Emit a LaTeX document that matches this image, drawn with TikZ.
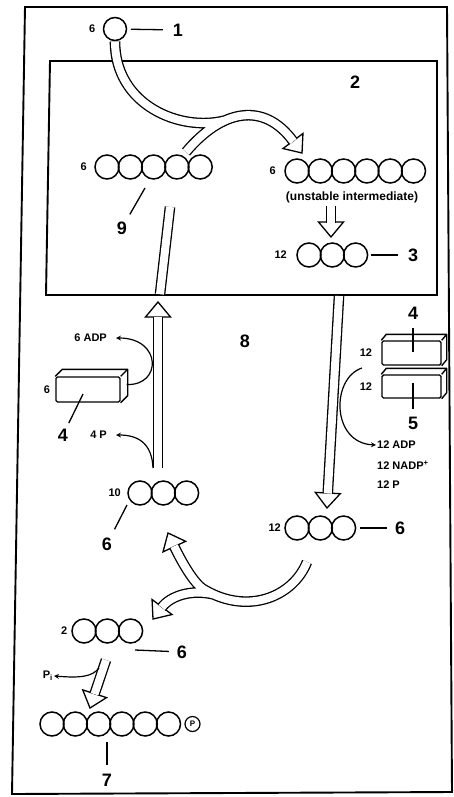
\documentclass[tikz,border=0pt]{standalone}
\usepackage{fontspec}
\setmainfont{Liberation Sans}
\usetikzlibrary{arrows, positioning, calc}

\begin{document}
\begin{tikzpicture}[
    x=1pt, y=1pt,
    atom/.style={circle, draw, line width=1.5pt, minimum size=24pt, inner sep=0pt, outer sep=0pt},
    bar/.style={rectangle, draw, line width=1.4pt, rounded corners=1.5pt, inner sep=0pt},
    bar3d/.style={line width=1.4pt, line join=round},
    num/.style={font=\fontsize{18}{18}\selectfont\bfseries, inner sep=1pt},
    small/.style={font=\fontsize{11}{12}\selectfont\bfseries, inner sep=1pt},
    pointer/.style={line width=1.3pt},
    hollow/.style={draw=black, double=white, double distance=8pt, line width=1.3pt},
    thin/.style={-stealth, line width=1.2pt},
    htip/.pic={\filldraw[fill=white, line width=1.3pt, line join=miter] (0,0) -- (-15,12.5) -- (-15,-12.5) -- cycle;}
]
    \useasboundingbox (0,0) rectangle (454,-797);

    % frame and stroma box
    \draw[line width=1.9pt] (25,-7) -- (447,-7) -- (452,-792) -- (12,-794) -- cycle;
    \draw[line width=1.9pt] (50,-61) -- (437,-61) -- (437,-295) -- (46,-295) -- cycle;

    % CO2
    \node[atom, minimum size=23pt] (co2) at (115,-29) {};
    \node[small, left=7pt of co2] (nco2) {6};
    \node[num] (lab1) at (178,-30) {1};
    \draw[pointer, shorten <=4.5pt, shorten >=9pt] (co2) -- (lab1);
    \node[num] (lab2) at (355,-82) {2};

    % RuBP
    \node[atom] (ru1) at (107,-167) {};
    \node[atom, right=-0.7pt of ru1] (ru2) {};
    \node[atom, right=-0.7pt of ru2] (ru3) {};
    \node[atom, right=-0.7pt of ru3] (ru4) {};
    \node[atom, right=-0.7pt of ru4] (ru5) {};
    \node[small, left=7pt of ru1] (nru) {6};
    \node[num] (lab9) at (122,-228) {9};
    \coordinate (p9) at (145,-188);
    \draw[pointer, shorten >=7pt] (p9) -- (lab9);

    % unstable intermediate
    \node[atom] (un1) at (297,-171) {};
    \node[atom, right=-0.7pt of un1] (un2) {};
    \node[atom, right=-0.7pt of un2] (un3) {};
    \node[atom, right=-0.7pt of un3] (un4) {};
    \node[atom, right=-0.7pt of un4] (un5) {};
    \node[atom, right=-0.7pt of un5] (un6) {};
    \node[small, left=8pt of un1] (nun) {6};
    \node[small, font=\fontsize{12}{12}\selectfont\bfseries] (unst) at (352,-197) {(unstable intermediate)};

    % 3-phosphoglycerate
    \node[atom] (pg1) at (309,-255) {};
    \node[atom, right=-0.7pt of pg1] (pg2) {};
    \node[atom, right=-0.7pt of pg2] (pg3) {};
    \node[small, left=9pt of pg1] (npg) {12};
    \node[num] (lab3) at (413,-255) {3};
    \draw[pointer, shorten <=3pt, shorten >=9pt] (pg3) -- (lab3);

    \node[num] (lab8) at (245,-341) {8};

    % ATP (left)
    \node[bar, minimum width=64pt, minimum height=25pt] (atpL) at (88,-389.5) {};
    \draw[bar3d] (atpL.north west) -- ++(7,7) -- ($(atpL.north east)+(7,7)$) -- ($(atpL.south east)+(7,7)$) -- (atpL.south east)
        (atpL.north east) -- ++(7,7);
    \node[small, left=4pt of atpL] (natpL) {6};
    \node[num] (labL4) at (63,-435) {4};
    \coordinate (p4) at (83,-394);
    \draw[pointer, shorten >=5pt] (p4) -- (labL4);

    % ATP and NADPH (right)
    \node[bar, minimum width=59pt, minimum height=24pt] (atpR) at (411.5,-353) {};
    \draw[bar3d] (atpR.north west) -- ++(5,6) -- ($(atpR.north east)+(5,6)$) -- ($(atpR.south east)+(5,6)$) -- (atpR.south east)
        (atpR.north east) -- ++(5,6);
    \node[bar, minimum width=59pt, minimum height=23pt] (nadph) at (411.5,-386.5) {};
    \draw[bar3d] (nadph.north west) -- ++(5,6) -- ($(nadph.north east)+(5,6)$) -- ($(nadph.south east)+(5,6)$) -- (nadph.south east)
        (nadph.north east) -- ++(5,6);
    \node[small, left=8pt of atpR] (natpR) {12};
    \node[small, left=8pt of nadph] (nnadph) {12};
    \node[num] (labR4) at (413,-313) {4};
    \coordinate (p4r) at (413,-352);
    \draw[pointer, shorten <=7.5pt] (labR4) -- (p4r);
    \node[num] (lab5) at (413,-423) {5};
    \coordinate (p5) at (413,-383);
    \draw[pointer, shorten >=7pt] (p5) -- (lab5);

    % released products
    \node[small, anchor=east] (adpL) at (108,-338) {6 ADP};
    \node[small, anchor=east] (pL) at (108,-435) {4 P};
    \node[small, anchor=west] (adpR) at (376,-445) {12 ADP};
    \node[small, anchor=west] (nadp) at (376,-465) {12 NADP\textsuperscript{+}};
    \node[small, anchor=west] (pR) at (376,-485) {12 P};

    % RuBP regenerated
    \node[atom] (rb1) at (140,-493) {};
    \node[atom, right=-0.7pt of rb1] (rb2) {};
    \node[atom, right=-0.7pt of rb2] (rb3) {};
    \node[small, left=6pt of rb1] (nrb) {10};
    \node[num] (lab6a) at (107,-544) {6};
    \coordinate (p6a) at (127,-505);
    \draw[pointer, shorten >=8pt] (p6a) -- (lab6a);

    % G3P
    \node[atom] (gp1) at (297,-528) {};
    \node[atom, right=-0.7pt of gp1] (gp2) {};
    \node[atom, right=-0.7pt of gp2] (gp3) {};
    \node[small, left=3pt of gp1] (ngp) {12};
    \node[num] (lab6b) at (400,-528) {6};
    \draw[pointer, shorten <=4.4pt, shorten >=7pt] (gp3) -- (lab6b);

    \node[atom] (gq1) at (84,-631) {};
    \node[atom, right=-0.7pt of gq1] (gq2) {};
    \node[atom, right=-0.7pt of gq2] (gq3) {};
    \node[small, left=3.5pt of gq1] (ngq) {2};
    \node[num] (lab6c) at (182,-652) {6};
    \coordinate (p6c) at (135,-650);
    \draw[pointer, shorten >=7pt] (p6c) -- (lab6c);

    \node[small, anchor=east] (pi) at (54,-676) {P\textsubscript{i}};

    % glucose phosphate
    \node[atom] (fp1) at (52,-724) {};
    \node[atom, right=-0.7pt of fp1] (fp2) {};
    \node[atom, right=-0.7pt of fp2] (fp3) {};
    \node[atom, right=-0.7pt of fp3] (fp4) {};
    \node[atom, right=-0.7pt of fp4] (fp5) {};
    \node[atom, right=-0.7pt of fp5] (fp6) {};
    \node[circle, draw, line width=1.2pt, minimum size=15pt, inner sep=0pt, font=\fontsize{8}{8}\selectfont\bfseries] (phos) at (192.5,-724) {P};
    \node[num] (lab7) at (107,-780) {7};
    \coordinate (p7) at (107,-742);
    \draw[pointer, shorten >=8pt] (p7) -- (lab7);

    % arrow heads
    \coordinate (tipA) at (302,-153);
    \coordinate (tipB) at (331,-237);
    \coordinate (tipC) at (158,-302);
    \coordinate (tipD) at (327,-508);
    \coordinate (tipE) at (168,-533);
    \coordinate (tipF) at (153,-619);
    \coordinate (tipG) at (90,-708);
    \pic[rotate=-53] at (tipA) {htip};
    \pic[rotate=-90] at (tipB) {htip};
    \pic[rotate=90] at (tipC) {htip};
    \pic[rotate=-93] at (tipD) {htip};
    \pic[rotate=115] at (tipE) {htip};
    \pic[rotate=233] at (tipF) {htip};
    \pic[rotate=-108] at (tipG) {htip};

    % hollow shafts
    \coordinate (join) at (224.8,-120.5);
    \draw[hollow] (186,-152) .. controls (221.4,-109.9) and (263.4,-100.6) .. ($(tipA)+(127:14.5)$)
        ([yshift=-1pt]co2.south) .. controls (115,-105) and (180,-132) .. (join);
    \draw[hollow] (170,-207) -- (160,-294.2);
    \draw[hollow] (331,-206) -- ($(tipB)+(90:14.5)$);
    \draw[hollow] (339,-296) -- ($(tipD)+(87:14.5)$);
    \coordinate (rbtail) at (158,-468);
    \draw[hollow] (rbtail) -- ($(tipC)+(-90:14.5)$);
    \draw[hollow] (307,-562) .. controls (293,-597) and (248,-615) .. (205,-590)
        .. controls (194,-585.1) and (179.2,-557) .. ($(tipE)+(295:14.5)$)
        (214,-594.5) .. controls (191,-588.8) and (170.1,-596.2) .. ($(tipF)+(53:14.5)$);
    \draw[hollow] (106,-660) -- ($(tipG)+(72:14.5)$);

    % thin side arrows
    \draw[thin, shorten >=8pt] ([xshift=6pt, yshift=5pt]atpL.east) .. controls (162,-386) and (162,-338) .. (adpL.east);
    \draw[thin, shorten >=8pt] ([xshift=-5pt]rbtail) .. controls (152,-445) and (140,-435) .. (pL.east);
    \coordinate (s12) at (362,-368);
    \draw[thin] (s12) .. controls (331,-378) and (331,-443) .. (adpR.west);
    \draw[thin] (99,-668) .. controls (92,-677) and (80,-678) .. (pi.east);
\end{tikzpicture}
\end{document}
